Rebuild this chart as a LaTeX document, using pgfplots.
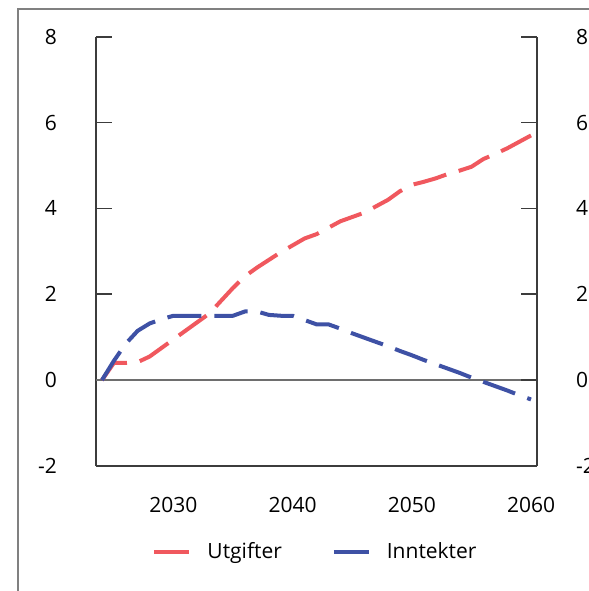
\documentclass[border=0pt]{standalone}
\usepackage{fontspec}
\setmainfont{Open Sans}
\usepackage{pgfplots}
\pgfplotsset{compat=1.18}

\definecolor{utg}{RGB}{240,88,94}
\definecolor{inn}{RGB}{62,81,165}
\definecolor{axgray}{RGB}{60,60,60}
\definecolor{zerogray}{RGB}{110,110,110}
\definecolor{framegray}{RGB}{128,128,128}

\pgfplotsset{
  base/.style={
    scale only axis, width=220.5pt, height=214.65pt,
    at={(48pt,62.5pt)}, anchor=south west,
    xmin=2023.5, xmax=2060.5, ymin=-2, ymax=8,
    ytick={-2,0,2,4,6,8},
    tick align=inside, major tick length=8pt,
    tick style={axgray, line width=0.8pt},
    axis line style={axgray, line width=0.9pt},
    font=\fontsize{10.5}{12}\selectfont,
    /pgf/number format/assume math mode=true,
    yticklabel shift=16pt,
  }
}

\begin{document}
\begin{tikzpicture}
\begin{axis}[base,
    axis x line*=bottom, axis y line*=left,
    xtick={2030,2040,2050,2060},
    x tick style={draw=none},
    xticklabel shift=12pt,
    x tick label style={/pgf/number format/1000 sep={}},
    legend style={at={(0.5,-0.2)}, anchor=center, draw=none,
        legend columns=2, font=\fontsize{10.5}{12}\selectfont,
        /tikz/every odd column/.append style={column sep=6pt},
        /tikz/every even column/.append style={column sep=23pt}},
    legend image code/.code={\draw[#1, solid, line width=2pt] (0pt,0pt) -- (17.5pt,0pt);},
]
\addplot[forget plot, zerogray, line width=0.9pt] coordinates {(2023.5,0) (2060.5,0)};

% Utgifter
\addplot[utg, line width=2pt, dash pattern=on 17pt off 6.5pt, line join=round] coordinates {
(2024,0) (2025,0.4) (2026,0.4) (2027,0.42) (2028,0.55) (2029,0.75)
(2030,0.95) (2031,1.15) (2032,1.35) (2033,1.55) (2034,1.85) (2035,2.15)
(2036,2.42) (2037,2.62) (2038,2.8) (2039,2.98) (2040,3.14) (2041,3.3)
(2042,3.4) (2043,3.55) (2044,3.7) (2045,3.8) (2046,3.9) (2047,4.05)
(2048,4.2) (2049,4.4) (2050,4.55) (2051,4.62) (2052,4.7) (2053,4.8)
(2054,4.88) (2055,4.97) (2056,5.15) (2057,5.27) (2058,5.4) (2059,5.55)
(2060,5.7)
};
\addlegendentry{Utgifter}

% Inntekter
\addplot[inn, line width=2pt, dash pattern=on 17pt off 6.5pt, line join=round] coordinates {
(2024,0) (2025,0.45) (2026,0.85) (2027,1.15) (2028,1.32) (2029,1.42)
(2030,1.5) (2031,1.5) (2032,1.5) (2033,1.5) (2034,1.5) (2035,1.5)
(2036,1.6) (2037,1.6) (2038,1.52) (2039,1.5) (2040,1.5) (2041,1.4)
(2042,1.3) (2043,1.3) (2044,1.2) (2045,1.09) (2046,0.99) (2047,0.89)
(2048,0.79) (2049,0.68) (2050,0.58) (2051,0.47) (2052,0.37) (2053,0.27)
(2054,0.17) (2055,0.06) (2056,-0.04) (2057,-0.14) (2058,-0.24) (2059,-0.35)
(2060,-0.45)
};
\addlegendentry{Inntekter}
\end{axis}

\begin{axis}[base,
    axis y line*=right, axis x line=none,
]
\end{axis}

\draw[framegray, line width=1pt] (9pt,-5pt) -- (9pt,291pt) -- (300pt,291pt);
\pgfresetboundingbox
\useasboundingbox (0,0) rectangle (294.5pt,295.5pt);
\end{tikzpicture}
\end{document}
